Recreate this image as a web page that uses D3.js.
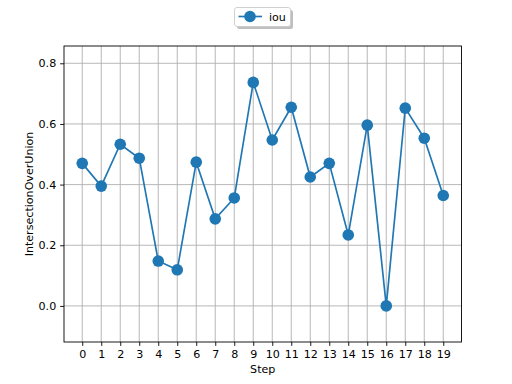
<!DOCTYPE html>
<html><head><meta charset="utf-8">
<script src="https://cdn.jsdelivr.net/npm/d3@7"></script>
<style>body{margin:0;background:#fff}svg{display:block}text{font-family:"DejaVu Sans",sans-serif}</style>
</head><body><svg id="c" width="512" height="384"></svg>
<script>
const steps = d3.range(0, 20);
const iou = [0.470, 0.395, 0.533, 0.487, 0.148, 0.119, 0.474, 0.287, 0.356, 0.737,
             0.547, 0.655, 0.425, 0.470, 0.234, 0.596, 0.000, 0.652, 0.553, 0.364];
const yTicks = [0.0, 0.2, 0.4, 0.6, 0.8];
const seriesName = "iou";

const svg = d3.select("#c");
const L = 64, R = 461.5, T = 46, B = 342;
const x = d3.scaleLinear().domain([-0.96, 19.96]).range([L, R]);
const y = d3.scaleLinear().domain([-0.119, 0.857]).range([B, T]);
const color = "#1f77b4";
const fs = 11.1;

// grid
const g = svg.append("g");
g.selectAll(".vg").data(steps).enter().append("line")
  .attr("x1", d => x(d)).attr("x2", d => x(d)).attr("y1", T).attr("y2", B)
  .attr("stroke", "#b0b0b0").attr("stroke-width", 0.9);
g.selectAll(".hg").data(yTicks).enter().append("line")
  .attr("y1", d => y(d)).attr("y2", d => y(d)).attr("x1", L).attr("x2", R)
  .attr("stroke", "#b0b0b0").attr("stroke-width", 0.9);

// axes
const xAxis = d3.axisBottom(x).tickValues(steps).tickFormat(d3.format("d")).tickSize(3.9).tickPadding(3.9);
const yAxis = d3.axisLeft(y).tickValues(yTicks).tickFormat(d3.format(".1f")).tickSize(3.9).tickPadding(3.9);
const ax = svg.append("g").attr("transform", `translate(0,${B})`).call(xAxis);
const ay = svg.append("g").attr("transform", `translate(${L},0)`).call(yAxis);
[ax, ay].forEach(a => {
  a.select(".domain").remove();
  a.selectAll("line").attr("stroke", "#000").attr("stroke-width", 0.9);
  a.selectAll("text").attr("font-size", fs).attr("fill", "#000").style("font-family", "DejaVu Sans");
});

// line
const line = d3.line().x((d, i) => x(steps[i])).y(d => y(d));
svg.append("path").datum(iou).attr("d", line).attr("fill", "none")
  .attr("stroke", color).attr("stroke-width", 1.67);
svg.selectAll(".pt").data(iou).enter().append("circle")
  .attr("cx", (d, i) => x(steps[i])).attr("cy", d => y(d)).attr("r", 5.8).attr("fill", color);

// frame
svg.append("rect").attr("x", L).attr("y", T).attr("width", R - L).attr("height", B - T)
  .attr("fill", "none").attr("stroke", "#000").attr("stroke-width", 0.9);

// labels
svg.append("text").attr("x", (L + R) / 2).attr("y", 373).attr("text-anchor", "middle")
  .attr("font-size", fs).text("Step");
svg.append("text").attr("transform", `translate(33,${(T + B) / 2}) rotate(-90)`)
  .attr("text-anchor", "middle").attr("font-size", fs).text("IntersectionOverUnion");

// legend
const lg = svg.append("g");
lg.append("rect").attr("x", 237).attr("y", 10).attr("width", 56).attr("height", 19).attr("rx", 2.5)
  .attr("fill", "#808080").attr("opacity", 0.5);
lg.append("rect").attr("x", 234.5).attr("y", 7.5).attr("width", 56).attr("height", 19).attr("rx", 2.5)
  .attr("fill", "#fff").attr("stroke", "#ccc").attr("stroke-width", 0.9);
lg.append("line").attr("x1", 238.5).attr("x2", 262).attr("y1", 16.5).attr("y2", 16.5)
  .attr("stroke", color).attr("stroke-width", 1.67);
lg.append("circle").attr("cx", 250).attr("cy", 16.5).attr("r", 5.8).attr("fill", color);
lg.append("text").attr("x", 269).attr("y", 20.5).attr("font-size", fs).text(seriesName);
</script></body></html>
